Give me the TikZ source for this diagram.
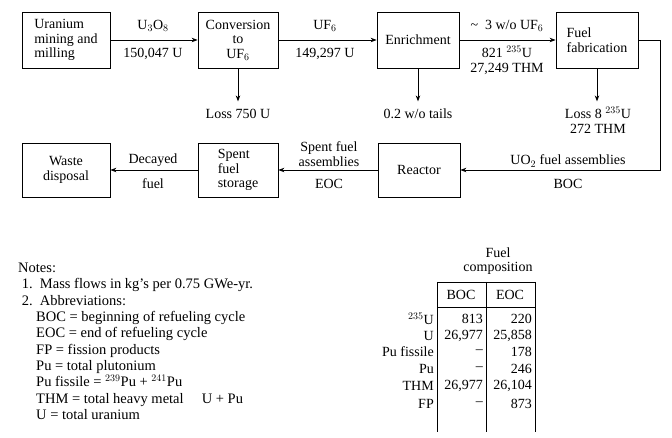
\documentclass[tikz,border=0pt]{standalone}
\usepackage{fontspec}
\setmainfont{Liberation Serif}
\usetikzlibrary{arrows.meta}
\begin{document}
\begin{tikzpicture}[x=1pt,y=-1pt,font=\fontsize{14}{14.5}\selectfont,
    box/.style={draw,thick,minimum height=56pt,align=center,inner sep=2pt},
    flow/.style={thick,-{Stealth[length=6pt]}},
    lbl/.style={align=center,inner sep=1pt}]
\useasboundingbox (0,0) rectangle (672,438);

% process boxes
\node[box,minimum width=88pt,align=left] (mine) at (66,40) {Uranium\\mining and\\milling};
\node[box,minimum width=80pt] (conv) at (238,40) {Conversion\\to\\UF$_6$};
\node[box,minimum width=82pt] (enr) at (418,40) {Enrichment};
\node[box,minimum width=82pt,align=left] (fab) at (597,40) {Fuel\\fabrication};
\node[box,minimum width=88pt,minimum height=54pt] (waste) at (66,170) {Waste\\disposal};
\node[box,minimum width=80pt,minimum height=54pt,align=left] (store) at (238,170) {Spent\\fuel\\storage};
\node[box,minimum width=82pt,minimum height=54pt] (reac) at (419,170) {Reactor};

% flows
\draw[flow] (mine) -- (conv);
\draw[flow] (conv) -- (enr);
\draw[flow] (enr) -- (fab);
\draw[flow] (fab.east) -- ++(22,0) |- (reac.east);
\draw[flow] (reac) -- (store);
\draw[flow] (store) -- (waste);
\node[lbl] at (153,26) {U$_3$O$_8$};
\node[lbl] at (153,54) {150,047 U};
\node[lbl] at (325,26) {UF$_6$};
\node[lbl] at (325,54) {149,297 U};
\node[lbl] at (507,26) {\textasciitilde\ \ 3 w/o UF$_6$};
\node[lbl] at (507,60) {821 $^{235}$U\\27,249 THM};
\node[lbl] at (568,161) {UO$_2$ fuel assemblies};
\node[lbl] at (568,184) {BOC};
\node[lbl,font=\fontsize{14}{15}\selectfont] at (329,154) {Spent fuel\\assemblies};
\node[lbl] at (329,184) {EOC};
\node[lbl] at (153,160) {Decayed};
\node[lbl] at (153,184) {fuel};

% losses
\node[lbl] (loss1) at (238,114) {Loss 750 U};
\node[lbl] (tails) at (418,114) {0.2 w/o tails};
\node[lbl] (loss2) at (598,120) {Loss 8 $^{235}$U\\272 THM};
\draw[flow] (conv.south) -- ++(0,33);
\draw[flow] (enr.south) -- ++(0,33);
\draw[flow] (fab.south) -- ++(0,33);

% notes
\node[align=left,anchor=north west,inner sep=0pt,font=\fontsize{14.5}{16.3}\selectfont] (notes) at (18,263) {%
Notes:\\
\ 1.\ \ Mass flows in kg's per 0.75 GWe-yr.\\
\ 2.\ \ Abbreviations:\\
\hspace*{18pt}BOC = beginning of refueling cycle\\
\hspace*{18pt}EOC = end of refueling cycle\\
\hspace*{18pt}FP = fission products\\
\hspace*{18pt}Pu = total plutonium\\
\hspace*{18pt}Pu fissile = $^{239}$Pu + $^{241}$Pu\\
\hspace*{18pt}THM = total heavy metal \quad U + Pu\\
\hspace*{18pt}U = total uranium};

% fuel composition table
\node[lbl] (comp) at (498,261) {Fuel\\composition};
\draw[thick] (437,282) -- (535,282) (437,282) -- (437,432) (486,282) -- (486,432) (535,282) -- (535,432)
  (437,307) -- (535,307);
\node at (461,295) {BOC};
\node at (510,295) {EOC};
\foreach \y/\a/\b/\c in {319/$^{235}$U/813/220, 336/U/{26,977}/{25,858}, 352/Pu fissile/--/178,
    369/Pu/--/246, 386/THM/{26,977}/{26,104}, 404/FP/--/873}{
  \node[anchor=east,inner sep=1pt] at (435,\y) {\a};
  \node[anchor=east,inner sep=1pt] at (484,\y) {\b};
  \node[anchor=east,inner sep=1pt] at (533,\y) {\c};
}
\end{tikzpicture}
\end{document}
